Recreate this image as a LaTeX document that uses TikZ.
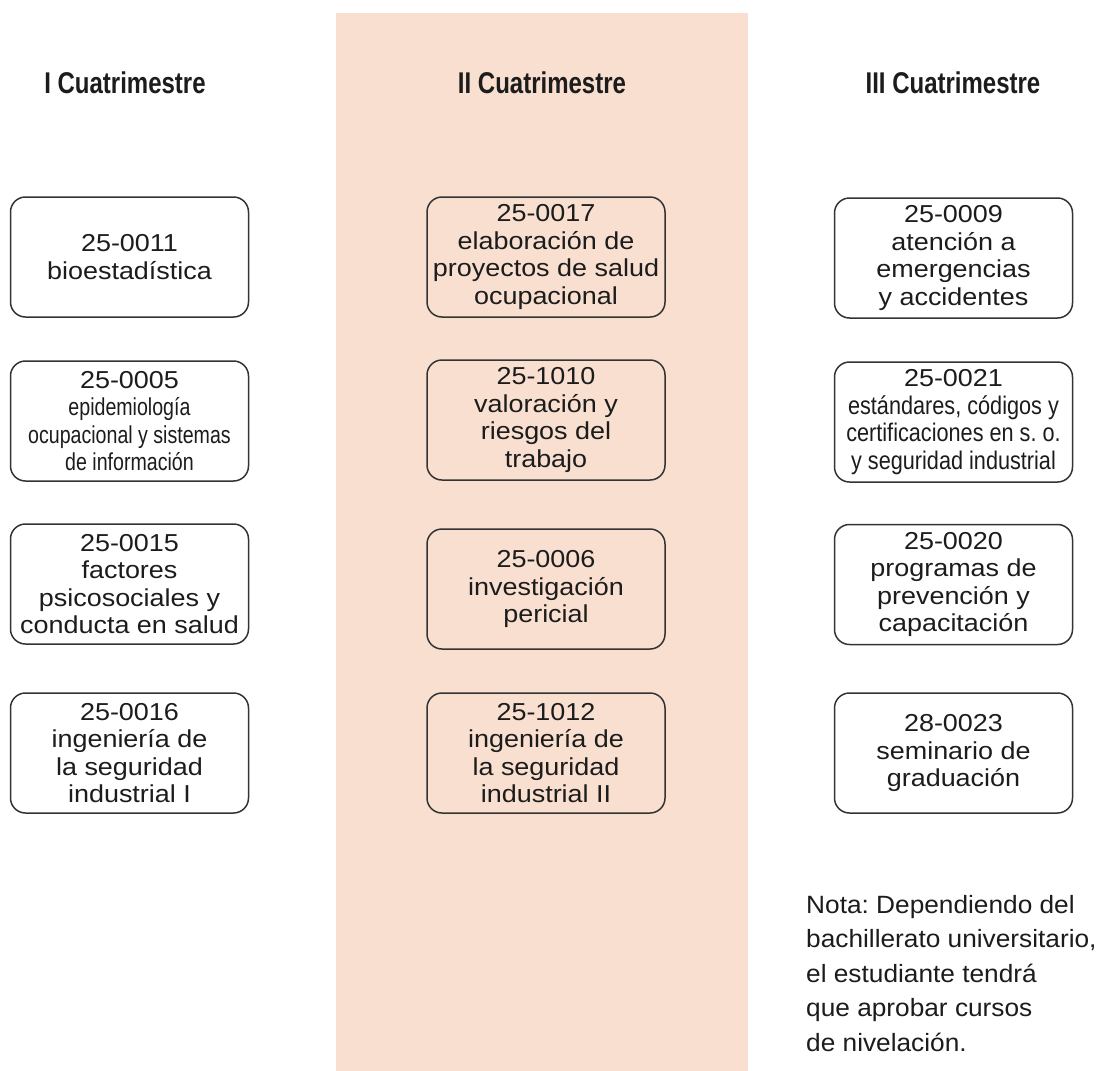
\documentclass[tikz,border=0pt]{standalone}
\usepackage{fontspec}
\setmainfont{Liberation Sans}
\newfontfamily\boxfont[FakeStretch=1.1]{Liberation Sans}
\newfontfamily\condA[FakeStretch=0.8]{Liberation Sans}
\newfontfamily\condB[FakeStretch=0.85]{Liberation Sans}
\newfontfamily\headfont[FakeStretch=0.8]{Liberation Sans}
\newfontfamily\notefont[FakeStretch=1.05]{Liberation Sans}
\definecolor{peach}{HTML}{F8DFD0}
\definecolor{ink}{HTML}{1C1C1C}
\definecolor{edge}{HTML}{333333}
\frenchspacing
\begin{document}
\begin{tikzpicture}[x=1pt,y=-1pt,
  course/.style={draw=edge, line width=1.5pt, rounded corners=15pt,
    minimum width=238pt, minimum height=120pt, inner sep=0pt,
    align=center, text=ink, font=\boxfont\fontsize{24.5}{27.5}\selectfont},
  head/.style={anchor=base, inner sep=0pt, text=ink,
    font=\headfont\bfseries\fontsize{30}{32}\selectfont},
  note/.style={anchor=north west, inner sep=0pt, align=left, text=ink,
    font=\notefont\fontsize{25}{34.5}\selectfont}]
\useasboundingbox (0,0) rectangle (1101,1071);
\fill[peach] (336,13) rectangle (748,1071);

\node[head] (h1) at (125,93) {I Cuatrimestre};
\node[head] (h2) at (542,93) {II Cuatrimestre};
\node[head] (h3) at (953,93) {III Cuatrimestre};

% column I
\node[course] (a1) at (129.5,257) {25-0011\\bioestadística};
\node[course] (a2) at (129.5,421) {25-0005\\{\condA\fontsize{24.5}{26}\selectfont epidemiología}\\{\condA\fontsize{24.5}{26}\selectfont ocupacional y sistemas}\\{\condA\fontsize{24.5}{26}\selectfont de información}};
\node[course] (a3) at (129.5,584) {25-0015\\factores\\psicosociales y\\conducta en salud};
\node[course] (a4) at (129.5,753) {25-0016\\ingeniería de\\la seguridad\\industrial I};

% column II
\node[course] (b1) at (546,257) {25-0017\\elaboración de\\proyectos de salud\\ocupacional};
\node[course] (b2) at (546,420) {25-1010\\valoración y\\riesgos del\\trabajo};
\node[course] (b3) at (546,589) {25-0006\\investigación\\pericial};
\node[course] (b4) at (546,753) {25-1012\\ingeniería de\\la seguridad\\industrial II};

% column III
\node[course] (c1) at (953.5,258) {25-0009\\atención a\\emergencias\\y accidentes};
\node[course] (c2) at (953.5,422) {25-0021\\{\condB\fontsize{25.5}{27}\selectfont estándares, códigos y}\\{\condB\fontsize{25.5}{27}\selectfont certificaciones en s. o.}\\{\condB\fontsize{25.5}{27}\selectfont y seguridad industrial}};
\node[course] (c3) at (953.5,584.5) {25-0020\\programas de\\prevención y\\capacitación};
\node[course] (c4) at (953.5,753) {28-0023\\seminario de\\graduación};

\node[note] (n) at (806,894.7) {Nota: Dependiendo del\\bachillerato universitario,\\el estudiante tendrá\\que aprobar cursos\\de nivelación.};
\end{tikzpicture}
\end{document}
